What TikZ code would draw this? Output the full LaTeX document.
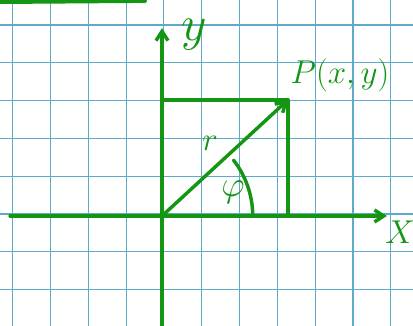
\documentclass[tikz,border=0pt]{standalone}
\usepackage{amsmath}
\usepackage{tikz}
\usetikzlibrary{arrows.meta}

\definecolor{gridblue}{RGB}{95,170,200}
\definecolor{penGreen}{RGB}{20,150,20}

\begin{document}
\begin{tikzpicture}[
    pen/.style={penGreen, line width=2.6pt, line cap=round, line join=round},
    lbl/.style={penGreen, inner sep=0pt}
  ]
    \useasboundingbox (-4.286,-2.884) rectangle (6.640,5.714);
    \fill[white] (-4.286,-2.884) rectangle (6.640,5.714);

    % Grid paper
    \draw[gridblue, line width=0.9pt, shift={(0.05,0.05)}] (-5,-4) grid (7,6);

    % Stroke at the top
    \draw[pen, line width=3pt] (-4.4,5.66) -- (-0.45,5.69);

    % Axes
    \coordinate (O) at (0,0);
    \coordinate (xl) at (-4.02,0);
    \coordinate (xr) at (5.95,0);
    \coordinate (yb) at (0,-3.0);
    \coordinate (yt) at (0,4.97);
    \draw[pen, -{Straight Barb[length=7pt,width=9pt]}] (xl) -- (xr);
    \draw[pen, -{Straight Barb[length=7pt,width=9pt]}] (yb) -- (yt);

    % Point and its projections
    \coordinate (P) at (3.33,3.07);
    \draw[pen] (O |- P) -- (P) -- (P |- O);
    \draw[pen, -{Straight Barb[length=7pt,width=9pt]}] (O) -- (P);

    % Angle
    \draw[pen] (0:2.4) arc (0:38:2.4);

    % Labels
    \node[lbl, font=\fontsize{24}{24}\selectfont, scale=1.5] (ylab) at (0.85,4.8) {$y$};
    \node[lbl, font=\fontsize{26}{26}\selectfont] (plab) at (4.71,3.73) {$P(x,y)$};
    \node[lbl, font=\fontsize{24}{24}\selectfont] (rlab) at (1.27,1.92) {$r$};
    \node[lbl, font=\fontsize{24}{24}\selectfont, scale=1.1] (philab) at (1.88,0.63) {$\varphi$};
    \node[lbl, font=\fontsize{26}{26}\selectfont] (xlab) at (6.3,-0.42) {$X$};
\end{tikzpicture}
\end{document}
